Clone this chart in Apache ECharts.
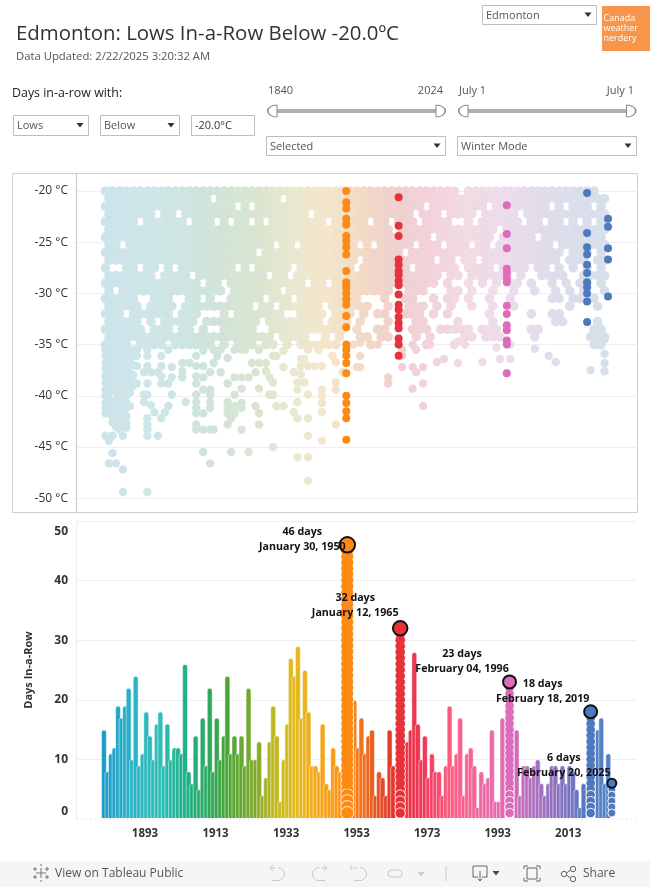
<!DOCTYPE html>
<html><head><meta charset="utf-8">
<style>html,body{margin:0;padding:0;background:#fff}#c{width:650px;height:887px}</style>
<script src="https://cdn.jsdelivr.net/npm/echarts@6/dist/echarts.min.js"></script>
</head><body><div id="c"></div>
<script>
const FONT = '"Open Sans", sans-serif';

/* ---------- lower chart: longest streak (days) per winter ---------- */
const streakYears = [1881,1882,1883,1884,1885,1886,1887,1888,1889,1890,1891,1892,1893,1894,1895,1896,1897,1898,1899,1900,1901,1902,1903,1904,1905,1906,1907,1908,1909,1910,1911,1912,1913,1914,1915,1916,1917,1918,1919,1920,1921,1922,1923,1924,1925,1926,1927,1928,1929,1930,1931,1932,1933,1934,1935,1936,1937,1938,1939,1940,1941,1942,1943,1944,1945,1946,1947,1948,1952,1953,1954,1955,1956,1957,1958,1959,1960,1961,1962,1963,1967,1968,1969,1970,1971,1972,1973,1974,1975,1976,1977,1978,1979,1980,1981,1982,1983,1984,1985,1986,1987,1988,1989,1990,1991,1992,1993,1994,1998,1999,2000,2001,2002,2003,2004,2005,2006,2007,2008,2009,2010,2011,2012,2013,2014,2015,2016,2017,2021,2022,2023,2024];
const streakDays  = [15,8,11,12,19,17,19,22,10,24,9,11,18,14,10,16,18,9,16,10,12,12,11,26,8,6,14,5,17,9,22,8,17,10,14,24,11,14,11,14,9,22,10,10,13,4,7,13,19,14,3,10,16,27,24,29,17,25,18,9,9,8,16,6,5,12,9,8,20,12,17,11,14,15,4,8,7,4,15,9,13,15,28,16,10,14,7,11,8,8,4,9,19,9,11,17,4,11,12,9,2,8,6,7,15,3,3,17,15,4,9,9,7,9,10,6,4,6,9,9,6,9,6,9,8,5,2,6,15,17,6,11];

/* ---------- highlighted streaks ---------- */
const peakYears  = [1950,1965,1996,2019,2025];
const peakDays   = [46,32,23,18,6];
const peakDates  = ['January 30, 1950','January 12, 1965','February 04, 1996','February 18, 2019','February 20, 2025'];
const peakColors = ['#fd8a13','#e7323a','#de6bbb','#4e79bf','#4e79bf'];
const peakStack  = [13,10.5,9.5,9.5,8];
const peakRing   = [15.5,14.5,13,13,9];
const peakOffset = [[-45,23],[-45,5],[-47.5,7],[-48,7.5],[-48,7.5]];

/* ---------- upper chart: lows of the highlighted winters ---------- */
const lows1950 = [-20,-21.1,-21.7,-22.7,-23.3,-24.4,-24.9,-25.5,-26.2,-27.8,-28.9,-29.2,-29.5,-30,-30.6,-31.1,-32.2,-33.3,-35,-35.5,-36.1,-36.8,-37.8,-40,-40.7,-41.5,-42.2,-44.3];
const lows1965 = [-20.6,-23.4,-24.4,-26.7,-27.2,-27.8,-28.2,-28.8,-29.2,-30.1,-31.1,-31.6,-32.3,-32.9,-33.4,-34.4,-35,-36.1];
const lows1996 = [-21.4,-24.2,-25.6,-27.6,-28,-28.5,-28.9,-31.2,-32,-33.1,-33.6,-34.6,-35,-37.8];
const lows2019 = [-20.2,-24.1,-25.5,-26.2,-27.2,-28,-28.9,-29.4,-30,-30.8,-32.8];
const lows2025 = [-22.7,-23.5,-25.6,-26.7,-30.3];
const peakLows = [lows1950,lows1965,lows1996,lows2019,lows2025];

/* ---------- upper chart: dense field, -20 to -35 in 0.75 degree rows, marks every second winter from 1881, alternate rows one winter later ---------- */
const fieldFirstYear = 1881, fieldYearStep = 2, fieldTopTemp = -20, fieldTempStep = 0.75;
const fieldRows = [
 '1111111111111111111111111111111111'+'1111111111'+'1111111.11'+'1111111111'+'1111111.',
 '1111111111111110111111111011111111'+'1111111111'+'1111111111'+'1111111111'+'11111111',
 '1111111111111111111.1.111111111111'+'1111111111'+'11.1111111'+'1.11111111'+'.1.111.1',
 '1111111.11.111111111111111111.1111'+'1111111111'+'.111.1111.'+'11111.1111'+'11111111',
 '11111.111111.111.1.11.1.11111111.1'+'1111.11.11'+'1.1111..1.'+'111111.11.'+'11.1.1.1',
 '1111111111111111111111111111111111'+'1111111.11'+'1111111111'+'11.1111111'+'11111111',
 '1111111111111111111111111111111111'+'1111111111'+'111.111111'+'11.11111.1'+'11111111',
 '11.111111111111111111111.11.111111'+'11.1.11111'+'.111.111.1'+'1.11111111'+'.1111111',
 '1111111111111111111111.11111111111'+'111111111.'+'1111111111'+'1111111111'+'11.111.1',
 '1111111111111111111111111111111111'+'11.1111111'+'111.11.11.'+'1111111111'+'1.111.11',
 '1..11.11.1.11111111.1.11111.111111'+'11.1111111'+'.111111.11'+'11.1111.11'+'.1.1.1.1',
 '1111111.1111.1111111111.11.1111111'+'1111111111'+'1111.11.11'+'1111.1..11'+'11..1111',
 '11111111111111.11.11111111111.11.1'+'1111111111'+'1111.1..1.'+'1.1.11.1..'+'1.1.11.1',
 '1.111111111111111.1111111.11111111'+'1111111..1'+'11...11.1.'+'.1..1..1..'+'1.1.1..1',
 '11111..111..11.1..11111.111.111111'+'111...1..1'+'1..1.11.1.'+'.1..1.....'+'11.11.1.',
 '11111.1111.1111111111.11.111111.11'.slice(0,33)+'1'+'1111..1..1'+'11.1.1..1.'+'.1..1.....'+'..1...1.',
 '111.111111.111...1.1111111..1111.1'+'11.1.11..1'+'11.1.1....'+'.1.....1..'+'11......',
 '11111.1.11111.11111111.11111111.11'+'1.1...1...'+'11....1...'+'.1........'+'11....1.',
 '111111.111.11.1..11111..1111111111'+'1.1..11...'+'111.11111.'+'111....11.'+'......11',
 '111111111111111111111111.1111..1.1'+'..11.11...'+'1.1....11.'+'111....1..'+'.....111',
 '1111.1111.111111.1.111.11.1.11.111'+'....1.....'+'..1...1...'+'..........'+'......11'
];

/* ---------- upper chart: sparse lows below the dense field ---------- */
const sparseYears = [1881,1882,1883,1884,1885,1886,1887,1888,1889,1890,1892,1893,1894,1895,1896,1897,1898,1899,1900,1903,1904,1905,1907,1909,1911,1912,1913,1914,1916,1917,1918,1920,1921,1922,1923,1924,1925,1927,1928,1929,1930,1932,1935,1936,1937,1938,1939,1941,1942,1943,1946,1947,1949,1952,1953,1954,1959,1962,1966,1969,1970,1972,1974,1976,1978,1982,1984,1989,1993,1994,1997,2004,2008,2010,2020,2022,2024];
const sparseLows = [
 [-35.5,-36.1,-36.8,-37.4,-38.1,-38.7,-39.4,-40,-40.7,-41.2,-41.7,-43.9],
 [-35.8,-36.5,-37.1,-37.8,-38.4,-39.1,-39.7,-40.4,-41,-41.5,-44.4,-46.6],
 [-35.5,-36.1,-36.8,-37.4,-38.1,-38.7,-39.4,-40.7,-41.2,-42,-42.6,-43.9,-45.6],
 [-35.8,-36.5,-37.1,-37.8,-38.4,-39.1,-39.7,-40.4,-41,-41.5,-42.2,-43,-46.6],
 [-35.5,-36.1,-36.8,-37.4,-38.1,-38.7,-39.4,-40,-40.7,-41.2,-42,-42.6,-43.3],
 [-35.8,-36.5,-37.1,-37.8,-38.4,-39.1,-39.7,-40.4,-41,-41.5,-42.2,-43,-43.9,-47.2,-49.4],
 [-35.5,-36.1,-36.8,-37.4,-38.1,-38.7,-39.4,-40,-40.7,-41.2,-42,-42.6,-43.1],
 [-35.8,-36.5,-37.1,-37.8,-38.4,-39.1,-39.7,-41],
 [-35.5,-36.1,-37,-38,-39],
 [-35.5,-36.1,-37.1,-38.8],
 [-37.7,-39.9,-40.6],
 [-35.5,-36.1,-37.1,-38.8,-39.9,-42.2,-42.8,-43.3,-43.9,-49.4],
 [-37.7,-40.9],
 [-41.6],
 [-37.7,-43.9],
 [-36.1,-37.1,-38.1,-38.8,-42.2],
 [-41.6],
 [-35.5,-38.8,-41],
 [-37.2,-38.2,-39.9],
 [-36.8,-37.6,-38.2],
 [-40.6],
 [-36.8],
 [-36.1,-37.1,-38.1,-38.8,-39.9,-40.6,-41.2,-41.7,-42.8,-43.3],
 [-35.6,-37.1,-38.2,-39.4,-41.7,-43.3,-45.5],
 [-37.7,-39.4,-39.9,-40.6,-41.2,-43.3,-46.6],
 [-35.5,-36.8,-43.3],
 [-36.1],
 [-35.5,-37.7],
 [-36.3,-38.8,-40.6,-41.2,-41.7,-42.8],
 [-42.2,-45.5],
 [-35.5,-38.2,-39.9,-41,-41.7],
 [-35.5,-38.2,-39.3,-40.7,-41.2,-43.3],
 [-35.5],
 [-38.2,-45.5],
 [-36.8],
 [-37.7,-41],
 [-35.5,-36.8,-39.3,-41.7,-42.8],
 [-36.8,-37.6],
 [-38.2,-39.9],
 [-36.1,-38.7,-39.9,-45],
 [-36.1,-41],
 [-35.6,-37.2,-41],
 [-37.7,-41.6],
 [-38.7,-39.4,-40.6,-42.2,-46],
 [-36.4,-37.1,-37.9],
 [-36.4,-38.7],
 [-35.5,-37.1,-39.9,-42.2,-43.9,-46,-48.3],
 [-35,-37.1],
 [-35.5],
 [-37.1,-39.4,-40,-40.7,-41.6,-44.4],
 [-36.1],
 [-36.7,-38.7,-39.4,-42.8],
 [-37.7],
 [-35],
 [-37.2],
 [-34.8,-36.1,-37.2],
 [-35],
 [-38.2,-38.8],
 [-35.5,-36.1,-37.2],
 [-35,-37.2,-39.3],
 [-35.5,-37.7],
 [-37.2,-38.8,-41],
 [-35],
 [-36.7],
 [-36.4],
 [-34.7,-36.8],
 [-35],
 [-36.7],
 [-35.3],
 [-36.4],
 [-35,-36.4],
 [-35.4],
 [-36.1],
 [-36.7],
 [-37.5],
 [-35],
 [-34.5,-35.9,-36.8,-37.6]
];

/* ---------- axes and colours ---------- */
const lowerTickYears = [1893,1913,1933,1953,1973,1993,2013];
const upperTempTicks = [-20,-25,-30,-35,-40,-45,-50];
const dayTicks = [0,10,20,30,40,50];
const barColorYears = [1881,1888,1897,1904,1912,1916,1924,1929,1935,1942,1950,1957,1962,1965,1972,1980,1990,1996,2003,2010,2017,2025];
const barColorHex   = ['#1f9dc9','#27b0c6','#30bfb8','#1fb189','#2fa858','#4ba536','#7fa92b','#bdb81f','#e3bb1e','#f5a81c','#ff8c12','#e9601f','#e33a2a','#e63038','#f03a5c','#ff5c84','#ec6aa8','#dd6cbb','#ad70c0','#8a72bf','#5a78c0','#4f86c6'];
const dotColorYears = [1881,1895,1910,1925,1935,1945,1955,1965,1975,1985,1996,2005,2015,2025];
const dotColorHex   = ['#cde3ea','#cfe6e8','#cfe4dd','#dae5cf','#eae8d0','#f4e6cb','#f2d9c6','#efd0d0','#f3d3dc','#f1dbe4','#ecdcec','#e3dcea','#dbdeeb','#d5dfea'];

function ramp(year, ys, cs){
  if(year<=ys[0]) return cs[0];
  for(let i=1;i<ys.length;i++) if(year<=ys[i])
    return echarts.color.lerp((year-ys[i-1])/(ys[i]-ys[i-1]),[cs[i-1],cs[i]]);
  return cs[cs.length-1];
}
const lightDot=d=>({value:d,itemStyle:{color:ramp(d[0],dotColorYears,dotColorHex),opacity:1}});

/* ---------- build marks ---------- */
const denseDots=[], sparseDots=[];
fieldRows.forEach((row,j)=>{ for(let i=0;i<row.length;i++) if(row[i]==='1') denseDots.push([fieldFirstYear+i*fieldYearStep+(j%2), fieldTopTemp-j*fieldTempStep]); });
sparseYears.forEach((y,k)=>sparseLows[k].forEach(t=>sparseDots.push([y,t])));
const peakDots=[];
peakYears.forEach((y,k)=>peakLows[k].forEach(t=>peakDots.push({value:[y,t],itemStyle:{color:peakColors[k],opacity:1}})));

const SOLID_FROM_DAY = 6;
const stackDots=[], stackCores=[];
peakYears.forEach((y,k)=>{ for(let d=peakDays[k];d>=1;d--){
  stackDots.push({value:[y,d],symbolSize:peakStack[k],itemStyle:{color:peakColors[k],opacity:1}});
  if(d>=SOLID_FROM_DAY) stackCores.push({value:[y,d],symbolSize:peakStack[k]-1.8,itemStyle:{color:peakColors[k],opacity:1}});
}});
const ringDots=peakYears.map((y,k)=>({
  value:[y,peakDays[k]],symbolSize:peakRing[k],
  itemStyle:{color:peakColors[k],borderColor:'#111',borderWidth:2,opacity:1},
  label:{show:true,position:'top',offset:peakOffset[k],align:'center',lineHeight:15,
    formatter:peakDays[k]+' days\n'+peakDates[k],color:'#111',fontFamily:FONT,fontSize:10.7,fontWeight:'bold'}
}));

/* ---------- page furniture ---------- */
const G=[];
const txt=(x,y,s,size,color,weight,align)=>G.push({type:'text',x,y:y+1,silent:true,z:50,style:{text:s,fontFamily:FONT,fontSize:size,fill:color||'#555',fontWeight:weight||400,textAlign:align||'left',textVerticalAlign:'middle'}});
const box=(x,y,w,h,stroke,fill)=>G.push({type:'rect',silent:true,z:40,shape:{x:x+.5,y:y+.5,width:w-1,height:h},style:{stroke:stroke||'#bdbdbd',fill:fill||'#fff',lineWidth:1}});
const fillRect=(x,y,w,h,fill,z)=>G.push({type:'rect',silent:true,z:z||40,shape:{x,y,width:w,height:h},style:{fill}});
const ln=(x1,y1,x2,y2,c,w,dash,z)=>G.push({type:'line',silent:true,z:z||45,shape:{x1,y1,x2,y2},style:{stroke:c||'#ccc',lineWidth:w||1,lineDash:dash||null}});
const poly=(pts,c,w)=>G.push({type:'polyline',silent:true,z:50,shape:{points:pts},style:{stroke:c,lineWidth:w||1,fill:null}});
const tri=(x,y,c)=>G.push({type:'polygon',silent:true,z:50,shape:{points:[[x-3.5,y-2],[x+3.5,y-2],[x,y+2.5]]},style:{fill:c||'#333'}});
const arc=(cx,cy,r,a,b,c,w)=>G.push({type:'arc',silent:true,z:50,shape:{cx,cy,r,startAngle:a,endAngle:b,clockwise:true},style:{stroke:c,lineWidth:w||1,fill:null}});

function dropdown(x,y,w,h,label,dark){ box(x,y,w,h); txt(x+4,y+h/2,label,11,dark?'#333':'#555'); if(label[0]!=='-') tri(x+w-9,y+h/2,'#333'); }
txt(16,33.5,'Edmonton: Lows In-a-Row Below -20.0ºC',20.4,'#333',400);
txt(16,55.5,'Data Updated: 2/22/2025 3:20:32 AM',11.3,'#555');
dropdown(482,5,115,19,'Edmonton');
fillRect(602,6,48,45,'#f7964a');
['Canada','weather','nerdery'].forEach((s,i)=>txt(603.5,17+i*10.3,s,9,'#fff'));
txt(12,92.5,'Days in-a-row with:',12.4,'#222',500);
dropdown(13,115,76,20,'Lows'); dropdown(100,115,80,20,'Below'); dropdown(191,115,64,20,'-20.0°C',true);
dropdown(266,136,180,19,'Selected'); dropdown(457,136,180,19,'Winter Mode');
txt(268,89.5,'1840',11,'#555'); txt(443,89.5,'2024',11,'#555',400,'right');
txt(459,89.5,'July 1',11,'#555'); txt(634,89.5,'July 1',11,'#555',400,'right');
function slider(x0,x1){
  fillRect(x0,109,x1-x0,4,'#b0b0b0');
  [[x0,-1],[x1,1]].forEach(([x,s])=>{
    G.push({type:'arc',silent:true,z:48,originX:x,originY:111,scaleX:1.55,shape:{cx:x,cy:111,r:6,startAngle:s<0?Math.PI/2:-Math.PI/2,endAngle:s<0?-Math.PI/2:Math.PI/2,clockwise:true},style:{stroke:'#888',fill:'#fff',lineWidth:1}});
    ln(x,105,x,117,'#888',1,null,49);
  });
}
slider(277,436); slider(468,626.5);

/* frame of the upper chart */
G.push({type:'rect',silent:true,z:45,shape:{x:12.5,y:173.5,width:625,height:339},style:{stroke:'#cfcfcf',fill:null,lineWidth:1}});
ln(76.5,173,76.5,512,'#c8c8c8');
ln(76.5,521,76.5,819,'#eeeeee');
fillRect(77,818,560,4,'#fff',30);
ln(77,819,637,819,'#e0e0e0',1,[1.5,3],31);

/* toolbar */
fillRect(0,861,650,26,'#f5f5f5',35);
[[41,868,41,878],[36,873,46,873],[35,867,35,871],[33,869,37,869],[47,867,47,871],[45,869,49,869],[35,875,35,879],[33,877,37,877],[47,875,47,879],[45,877,49,877],[41,864,41,866],[41,880,41,882]].forEach(a=>ln(a[0],a[1],a[2],a[3],'#777',1,null,50));
txt(55,873,'View on Tableau Public',12,'#555');
const gr='#c8c8c8';
poly([[270,868],[275,868]],gr); arc(278,874,6.5,-Math.PI/2,Math.PI/2,gr); poly([[278,880.5],[272,880.5]],gr); poly([[273,865],[270,868],[273,871]],gr);
poly([[327,868],[322,868]],gr); arc(319,874,6.5,Math.PI/2,-Math.PI/2,gr); poly([[319,880.5],[325,880.5]],gr); poly([[324,865],[327,868],[324,871]],gr);
poly([[351,865],[351,870]],gr); poly([[353,868],[358,868]],gr); arc(360,874,6.5,-Math.PI/2,Math.PI/2,gr); poly([[360,880.5],[354,880.5]],gr);
G.push({type:'rect',silent:true,z:50,shape:{x:388,y:870,width:14,height:7,r:3.5},style:{stroke:gr,fill:null}});
tri(421,874,'#cccccc'); ln(446,866,446,881,'#c8c8c8');
poly([[478,877],[473,877],[473,866],[487,866],[487,877],[482,877]],'#666'); poly([[480,871],[480,881]],'#666'); poly([[478,879],[480,881],[482,879]],'#666');
tri(496,873,'#444');
G.push({type:'rect',silent:true,z:50,shape:{x:527,y:868,width:10,height:11},style:{stroke:'#666',fill:null}});
poly([[524,869],[524,866],[528,866]],'#666');poly([[536,866],[540,866],[540,869]],'#666');poly([[524,878],[524,881],[528,881]],'#666');poly([[536,881],[540,881],[540,878]],'#666');
G.push({type:'circle',silent:true,z:50,shape:{cx:564,cy:874,r:2.7},style:{stroke:'#666',fill:null}});
G.push({type:'circle',silent:true,z:50,shape:{cx:573,cy:869,r:2.7},style:{stroke:'#666',fill:null}});
G.push({type:'circle',silent:true,z:50,shape:{cx:573,cy:879,r:2.7},style:{stroke:'#666',fill:null}});
ln(566.5,873,570.5,870,'#666',1,null,50); ln(566.5,875,570.5,878,'#666',1,null,50);
txt(583,873,'Share',12,'#555');

const gridLine={show:true,lineStyle:{color:'#efefef',width:1}};
const chart=echarts.init(document.getElementById('c'),null,{renderer:'canvas'});
chart.setOption({
  animation:false,backgroundColor:'#fff',
  graphic:{elements:G},
  grid:[{left:76,top:173,width:561,height:339,containLabel:false},{left:76,top:521,width:561,height:298,containLabel:false}],
  xAxis:[
    {gridIndex:0,type:'value',min:1872.55,max:2033.3,show:false,splitLine:{show:false}},
    {gridIndex:1,type:'value',min:1873.08,max:2032.14,axisLine:{show:false},splitLine:{show:false},
     axisTick:{show:true,length:3,lineStyle:{color:'#e4e4e4'},customValues:lowerTickYears.map(y=>y-.36)},
     axisLabel:{customValues:lowerTickYears.map(y=>y-.36),formatter:v=>String(Math.round(v+.36)),color:'#333',fontFamily:FONT,fontSize:11.5,fontWeight:'bold',margin:9}}
  ],
  yAxis:[
    {gridIndex:0,type:'value',min:-51.35,max:-18.24,axisLine:{show:false},
     axisTick:{show:false,customValues:upperTempTicks},splitLine:gridLine,
     axisLabel:{customValues:upperTempTicks,formatter:v=>v+' °C',color:'#333',fontFamily:FONT,fontSize:12,margin:8}},
    {gridIndex:1,type:'value',min:0,max:50,axisLine:{show:false},
     axisTick:{show:false,customValues:dayTicks},splitLine:gridLine,
     name:'Days In-a-Row',nameLocation:'middle',nameGap:42,nameTextStyle:{color:'#333',fontFamily:FONT,fontSize:11,fontWeight:700},
     axisLabel:{customValues:dayTicks,color:'#333',fontFamily:FONT,fontSize:12,fontWeight:700,margin:8,verticalAlignMinLabel:'bottom',verticalAlignMaxLabel:'top',
       formatter:v=>v===50?'{t|50}':v===0?'{b|0}':String(v),
       rich:{t:{padding:[5,0,0,0],fontFamily:FONT,fontSize:12,fontWeight:700,color:'#333'},b:{padding:[0,0,1,0],fontFamily:FONT,fontSize:12,fontWeight:700,color:'#333'}}}}
  ],
  series:[
    {type:'scatter',xAxisIndex:0,yAxisIndex:0,symbolSize:9.6,silent:true,z:2,data:denseDots.map(lightDot)},
    {type:'scatter',xAxisIndex:0,yAxisIndex:0,symbolSize:8.4,silent:true,z:2,data:sparseDots.map(lightDot)},
    {type:'scatter',xAxisIndex:0,yAxisIndex:0,symbolSize:8,silent:true,z:3,data:peakDots},
    {type:'bar',xAxisIndex:1,yAxisIndex:1,barWidth:5.6,silent:true,z:2,
     data:streakYears.map((y,i)=>({value:[y,streakDays[i]],itemStyle:{color:ramp(y,barColorYears,barColorHex),borderRadius:[3,3,0,0],borderColor:'rgba(255,255,255,.7)',borderWidth:.7}}))},
    {type:'scatter',xAxisIndex:1,yAxisIndex:1,silent:true,z:3,
     itemStyle:{borderColor:'rgba(255,255,255,.9)',borderWidth:1},data:stackDots},
    {type:'scatter',xAxisIndex:1,yAxisIndex:1,silent:true,z:4,data:stackCores},
    {type:'scatter',xAxisIndex:1,yAxisIndex:1,silent:true,z:5,data:ringDots}
  ]
});
</script></body></html>
